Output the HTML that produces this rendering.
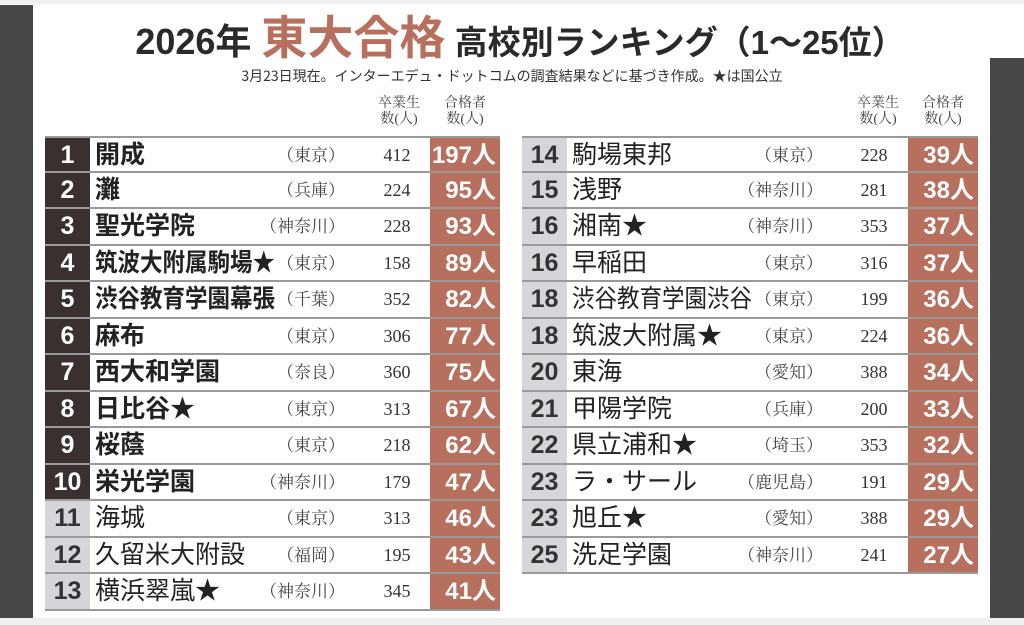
<!DOCTYPE html>
<html><head><meta charset="utf-8"><style>
body{margin:0;width:1024px;height:625px;background:#f0f0f0;position:relative;overflow:hidden;font-family:"Liberation Sans","Noto Sans CJK JP",sans-serif}
.pg{position:absolute;left:0;top:4px;width:1024px;height:614px;background:#fff}
.lb{position:absolute;left:0;top:5px;width:33px;height:613px;background:#474747}
.rb{position:absolute;left:990px;top:58px;width:34px;height:560px;background:#474747}
.t{position:absolute;top:8px;left:0;width:1040px;text-align:center;white-space:nowrap;font-weight:bold;color:#2a2a2a;line-height:60px}
.sub{position:absolute;top:66px;left:0;width:1024px;text-align:center;font-size:14px;color:#333;font-family:"Noto Sans CJK JP",sans-serif}
.h{position:absolute;top:96px;font-size:14px;line-height:16px;color:#444;font-family:"Liberation Serif","Noto Serif CJK SC",serif;text-align:center;width:50px}
.row{position:absolute;height:36.5px;border-bottom:2px solid #999;box-sizing:border-box}
.rk{position:absolute;left:0;top:0;width:45px;height:100%;font-size:25px;font-weight:bold;text-align:center;line-height:35px}
.nm{position:absolute;left:50px;top:0;font-size:25px;line-height:35px;color:#222;white-space:nowrap;transform-origin:left center}
.pf{position:absolute;right:155px;top:0;font-size:17px;line-height:35px;color:#444;font-family:"Liberation Serif","Noto Serif CJK SC",serif;white-space:nowrap}
.gr{position:absolute;left:327px;width:50px;text-align:center;top:0;font-size:18px;line-height:35px;color:#333;font-family:"Liberation Serif",serif}
.ct{position:absolute;right:0;top:0;width:70px;height:100%;background:#b7705e;color:#fff;font-size:24px;font-weight:bold;text-align:right;padding-right:4px;box-sizing:border-box;line-height:35px}
</style></head><body>
<div class="pg"></div><div class="lb"></div><div class="rb"></div>
<div class="t"><span style="font-size:36px">2026年 </span><span style="font-size:46px;color:#b7705e">東大合格</span><span style="font-size:33px"> 高校別ランキング（1～25位）</span></div>
<div class="sub">3月23日現在。インターエデュ・ドットコムの調査結果などに基づき作成。★は国公立</div>
<div class="h" style="left:374px">卒業生<br>数(人)</div><div class="h" style="left:440px">合格者<br>数(人)</div>
<div class="h" style="left:853px">卒業生<br>数(人)</div><div class="h" style="left:918px">合格者<br>数(人)</div>
<div id="L"></div>
<script>
const L=[["1","開成","（東京）","412","197人"],["2","灘","（兵庫）","224","95人"],["3","聖光学院","（神奈川）","228","93人"],["4","筑波大附属駒場★","（東京）","158","89人"],["5","渋谷教育学園幕張","（千葉）","352","82人"],["6","麻布","（東京）","306","77人"],["7","西大和学園","（奈良）","360","75人"],["8","日比谷★","（東京）","313","67人"],["9","桜蔭","（東京）","218","62人"],["10","栄光学園","（神奈川）","179","47人"],["11","海城","（東京）","313","46人"],["12","久留米大附設","（福岡）","195","43人"],["13","横浜翠嵐★","（神奈川）","345","41人"]];
const R=[["14","駒場東邦","（東京）","228","39人"],["15","浅野","（神奈川）","281","38人"],["16","湘南★","（神奈川）","353","37人"],["16","早稲田","（東京）","316","37人"],["18","渋谷教育学園渋谷","（東京）","199","36人"],["18","筑波大附属★","（東京）","224","36人"],["20","東海","（愛知）","388","34人"],["21","甲陽学院","（兵庫）","200","33人"],["22","県立浦和★","（埼玉）","353","32人"],["23","ラ・サール","（鹿児島）","191","29人"],["23","旭丘★","（愛知）","388","29人"],["25","洗足学園","（神奈川）","241","27人"]];
let h='';
function add(arr,x,w,idx0){arr.forEach((r,i)=>{const dark=(idx0+i)<10;const y=136+i*36.5;
const sc=r[1].length>=8?'transform:scaleX(0.9);':'';
h+=`<div class="row" style="left:${x}px;top:${y}px;width:${w}px;${i==0?'border-top:2px solid #999;':''}"><div class="rk" style="background:${dark?'#3a3030':'#d4d6da'};color:${dark?'#fff':'#333'}">${r[0]}</div><div class="pf">${r[2]}</div><div class="nm" style="font-weight:${dark?'bold':'normal'};${sc}">${r[1]}</div><div class="gr">${r[3]}</div><div class="ct">${r[4]}</div></div>`;});}
add(L,45,455,0);add(R,522,456,13);
document.getElementById('L').innerHTML=h;
</script>
</body></html>
